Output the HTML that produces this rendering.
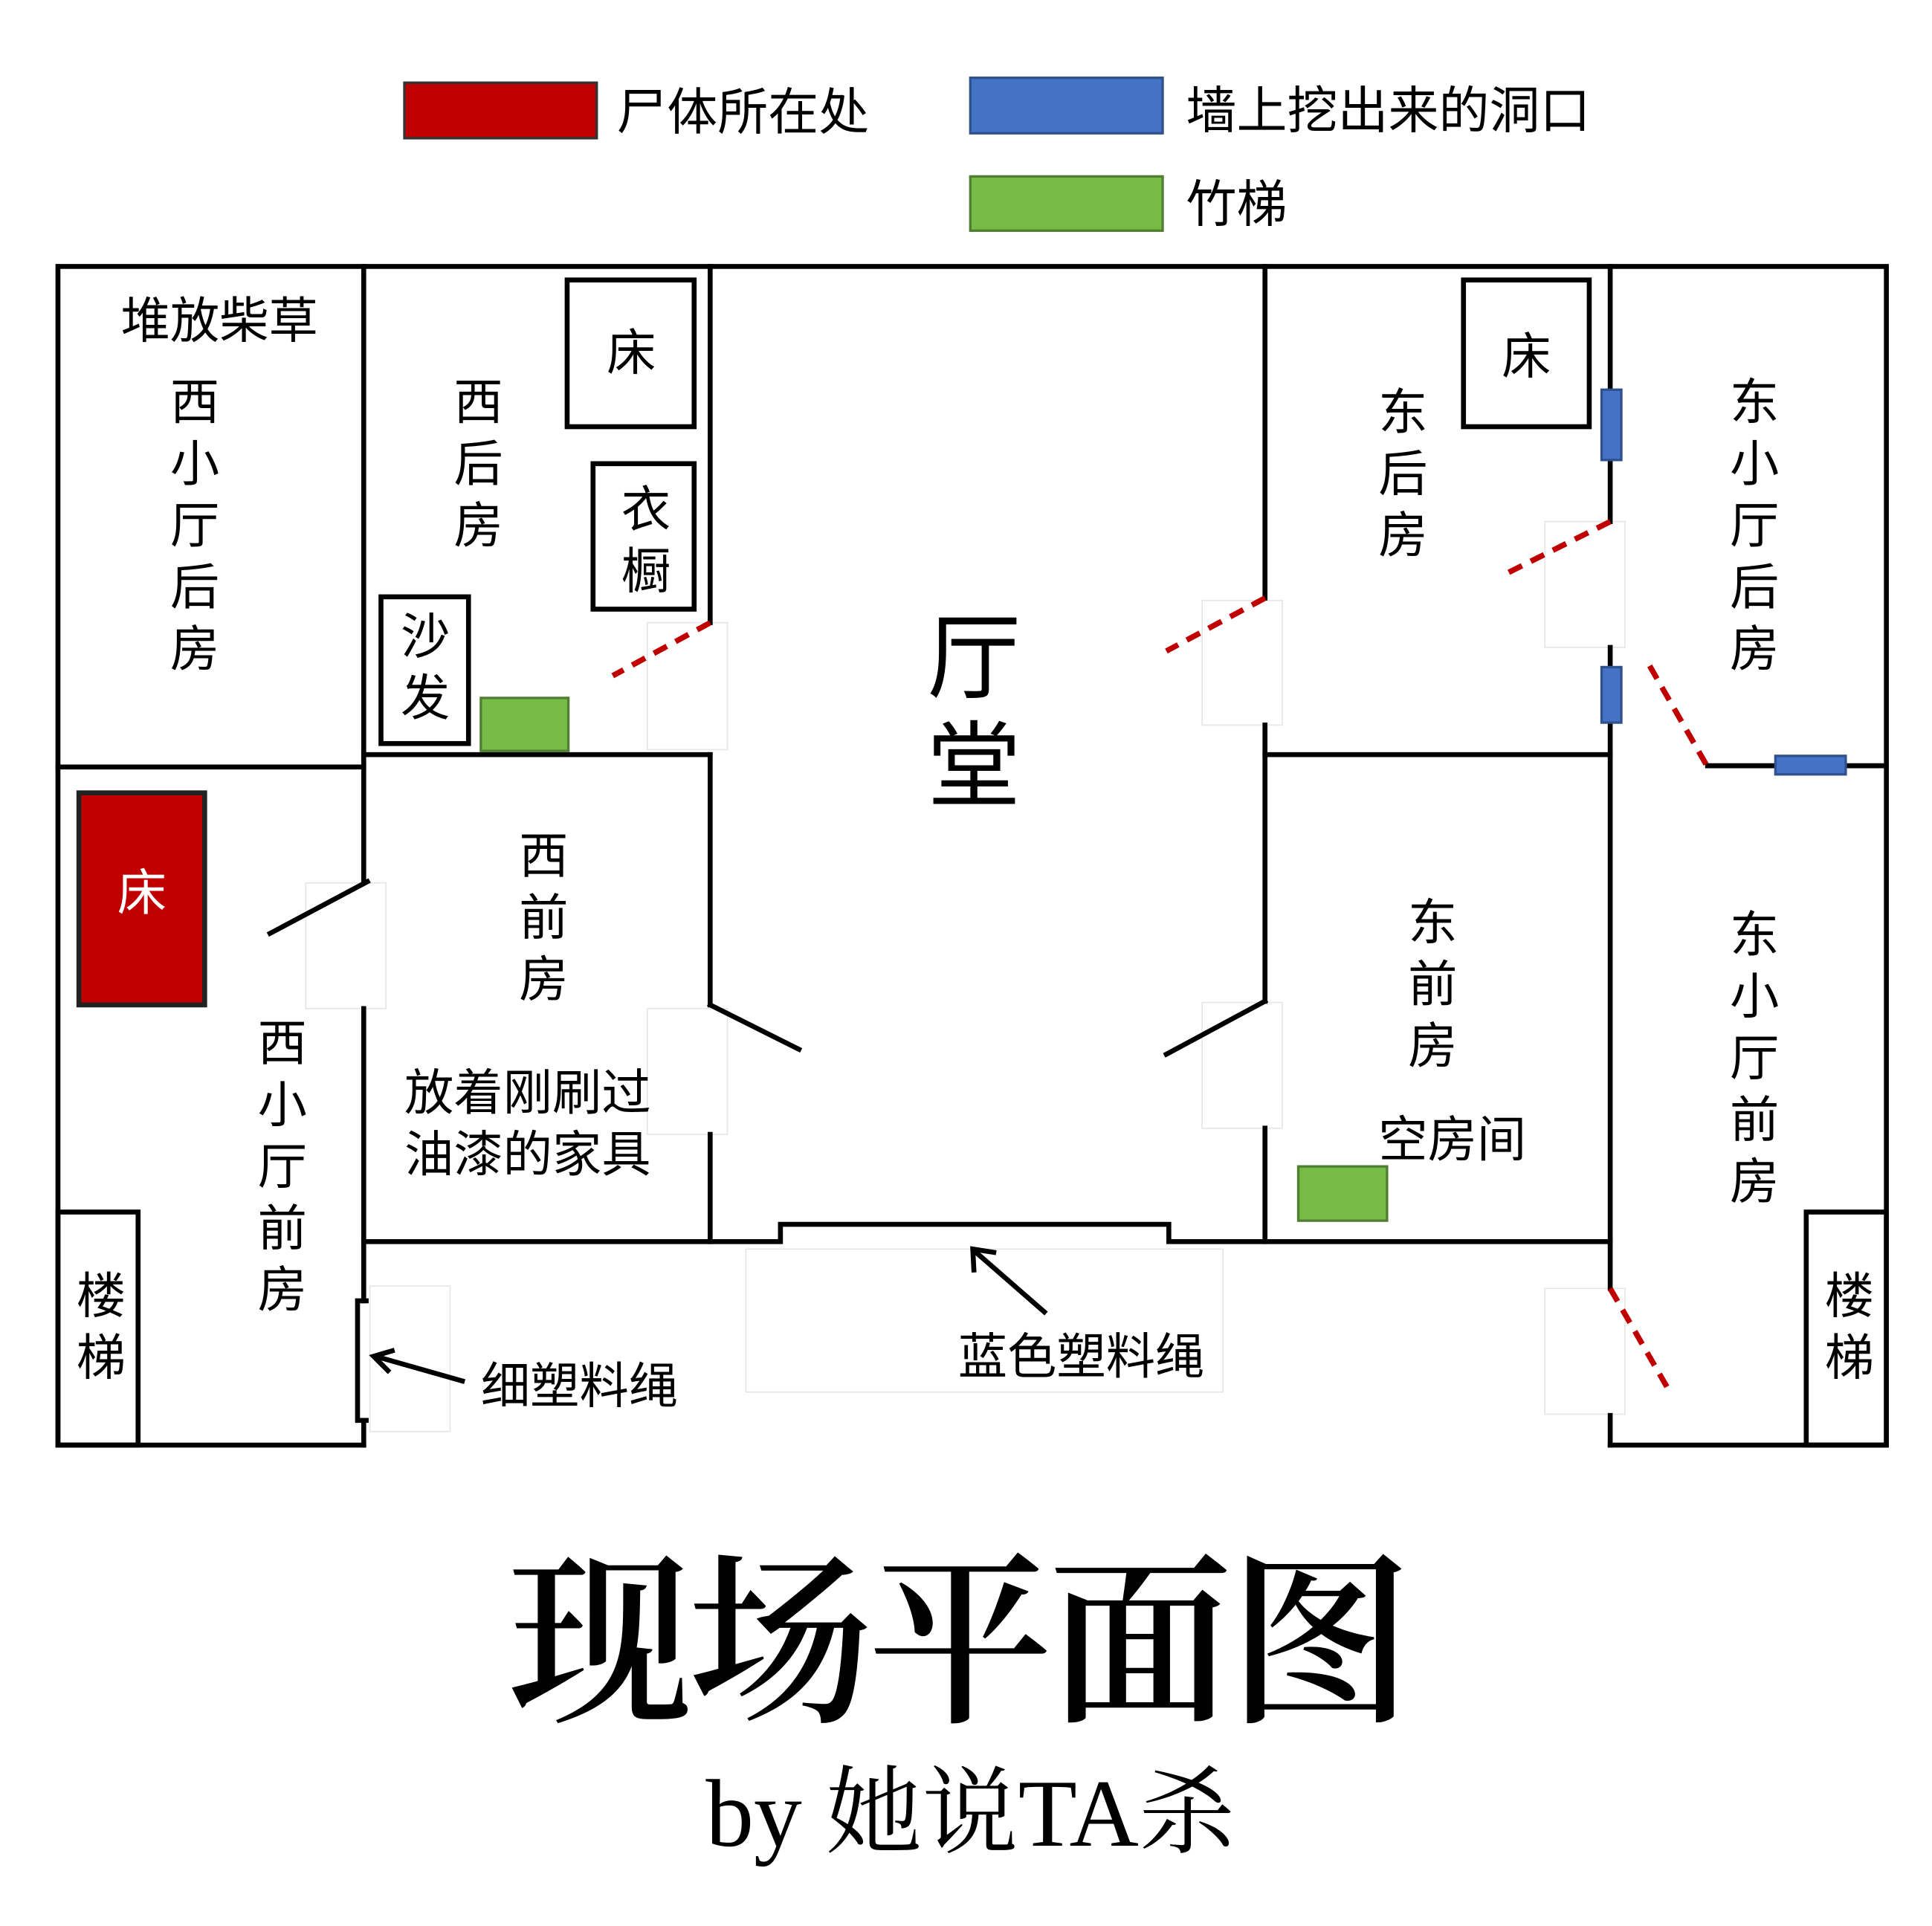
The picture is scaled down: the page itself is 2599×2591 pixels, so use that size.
<!DOCTYPE html>
<html><head><meta charset="utf-8"><style>
html,body{margin:0;padding:0;background:#fff}
svg{display:block}
text{font-family:"Liberation Sans","Noto Sans CJK SC",sans-serif;fill:#000}
.s{font-family:"Liberation Serif","Noto Serif CJK SC",serif}
</style></head><body>
<svg width="2599" height="2591" viewBox="0 0 1567 1562" xmlns="http://www.w3.org/2000/svg">
<rect width="1567" height="1562" fill="#fff"/>
<!-- legend -->
<rect x="328" y="67" width="156" height="45" fill="#c00000" stroke="#333" stroke-width="2"/>
<text x="500" y="105" font-size="41">尸体所在处</text>
<rect x="787" y="63" width="156" height="45" fill="#4472c4" stroke="#2f528f" stroke-width="2"/>
<text x="962" y="104" font-size="41">墙上挖出来的洞口</text>
<rect x="787" y="143" width="156" height="44" fill="#76bb45" stroke="#507e32" stroke-width="2"/>
<text x="962" y="180" font-size="41">竹梯</text>

<!-- faint door boxes -->
<g fill="#fff" stroke="#e6e6e6" stroke-width="1">
<rect x="525" y="505" width="65" height="103"/>
<rect x="248" y="716" width="65" height="102"/>
<rect x="525" y="818" width="65" height="102"/>
<rect x="975" y="487" width="65" height="101"/>
<rect x="975" y="813" width="65" height="102"/>
<rect x="1253" y="423" width="65" height="102"/>
<rect x="300" y="1043" width="65" height="118"/>
<rect x="605" y="1013" width="387" height="116"/>
<rect x="1253" y="1045" width="65" height="102"/>
</g>

<g stroke="#000" stroke-width="4" fill="none" stroke-linecap="square">
<polyline points="295,1172 47,1172 47,216 1530,216 1530,1172 1306,1172"/>
<line x1="47" y1="622" x2="295" y2="622"/>
<line x1="295" y1="216" x2="295" y2="715"/>
<line x1="298" y1="715" x2="219" y2="757"/>
<line x1="295" y1="818" x2="295" y2="1055"/>
<polyline points="297,1055 290,1055 290,1152 297,1152"/>
<line x1="295" y1="1152" x2="295" y2="1172"/>
<line x1="295" y1="612" x2="576" y2="612"/>
<line x1="576" y1="216" x2="576" y2="505"/>
<line x1="576" y1="612" x2="576" y2="815"/>
<line x1="576" y1="815" x2="648" y2="851"/>
<line x1="576" y1="920" x2="576" y2="1007"/>
<polyline points="295,1007 633,1007 633,993 948,993 948,1007 1306,1007"/>
<line x1="1026" y1="216" x2="1026" y2="485"/>
<line x1="1026" y1="588" x2="1026" y2="812"/>
<line x1="1026" y1="812" x2="946" y2="855"/>
<line x1="1026" y1="915" x2="1026" y2="1007"/>
<line x1="1026" y1="612" x2="1306" y2="612"/>
<line x1="1306" y1="216" x2="1306" y2="423"/>
<line x1="1306" y1="525" x2="1306" y2="1045"/>
<line x1="1306" y1="1148" x2="1306" y2="1172"/>
<line x1="1385" y1="621" x2="1530" y2="621"/>
<rect x="47" y="983" width="65" height="189"/>
<rect x="1465" y="983" width="65" height="189"/>
<rect x="460" y="227" width="103" height="119"/>
<rect x="481" y="376" width="82" height="118"/>
<rect x="309" y="484" width="71" height="119"/>
<rect x="1187" y="227" width="102" height="119"/>
<line x1="375" y1="1120" x2="308" y2="1101"/>
<line x1="847" y1="1064" x2="792" y2="1016"/>
</g>
<g stroke="#000" stroke-width="4" fill="none">
<polyline points="320,1095 303,1100 316,1113"/>
<polyline points="790,1032 789,1013 808,1016"/>
</g>
<g stroke="#c00000" stroke-width="4.5" stroke-dasharray="12,8" fill="none">
<line x1="576" y1="505" x2="497" y2="548"/>
<line x1="1026" y1="485" x2="946" y2="528"/>
<line x1="1306" y1="423" x2="1222" y2="465"/>
<line x1="1338" y1="540" x2="1385" y2="622"/>
<line x1="1306" y1="1045" x2="1355" y2="1130"/>
</g>
<g fill="#4472c4" stroke="#2f528f" stroke-width="2">
<rect x="1299" y="316" width="16" height="57"/>
<rect x="1299" y="541" width="16" height="45"/>
<rect x="1440" y="613" width="57" height="15"/>
</g>
<rect x="390" y="566" width="71" height="43" fill="#76bb45" stroke="#507e32" stroke-width="2"/>
<rect x="1053" y="946" width="72" height="44" fill="#76bb45" stroke="#507e32" stroke-width="2"/>
<rect x="64" y="643" width="102" height="172" fill="#c00000" stroke="#222" stroke-width="4"/>

<g font-size="40" text-anchor="middle">
<text x="178" y="274">堆放柴草</text>
<text x="158" y="340">西</text><text x="158" y="390">小</text><text x="158" y="440">厅</text><text x="158" y="490">后</text><text x="158" y="540">房</text>
<text x="388" y="340">西</text><text x="388" y="390">后</text><text x="388" y="440">房</text>
<text x="512" y="300">床</text>
<text x="524" y="427">衣</text><text x="524" y="477">橱</text>
<text x="345" y="530">沙</text><text x="345" y="580">发</text>
<text x="115" y="738" style="fill:#fff">床</text>
<text x="441" y="708">西</text><text x="441" y="758">前</text><text x="441" y="808">房</text>
<text x="229" y="860">西</text><text x="229" y="910">小</text><text x="229" y="960">厅</text><text x="229" y="1010">前</text><text x="229" y="1060">房</text>
<text x="82" y="1065">楼</text><text x="82" y="1115">梯</text>
<text x="1500" y="1065">楼</text><text x="1500" y="1115">梯</text>
<text x="1238" y="303">床</text>
<text x="1138" y="348">东</text><text x="1138" y="398">后</text><text x="1138" y="448">房</text>
<text x="1423" y="340">东</text><text x="1423" y="390">小</text><text x="1423" y="440">厅</text><text x="1423" y="490">后</text><text x="1423" y="540">房</text>
<text x="1162" y="762">东</text><text x="1162" y="812">前</text><text x="1162" y="862">房</text>
<text x="1423" y="772">东</text><text x="1423" y="822">小</text><text x="1423" y="872">厅</text><text x="1423" y="922">前</text><text x="1423" y="972">房</text>
</g>
<g font-size="40">
<text x="328" y="900">放着刚刷过</text>
<text x="328" y="950">油漆的家具</text>
<text x="1118" y="938">空房间</text>
<text x="390" y="1138">细塑料绳</text>
<text x="777" y="1114">蓝色塑料绳</text>
</g>
<g font-size="76" text-anchor="middle">
<text x="790" y="560">厅</text>
<text x="790" y="648">堂</text>
</g>
<text class="s" x="777" y="1385" font-size="150" font-weight="600" text-anchor="middle" letter-spacing="-4">现场平面图</text>
<text class="s" x="787" y="1497" font-size="78" text-anchor="middle">by 她说TA杀</text>
</svg>
</body></html>
